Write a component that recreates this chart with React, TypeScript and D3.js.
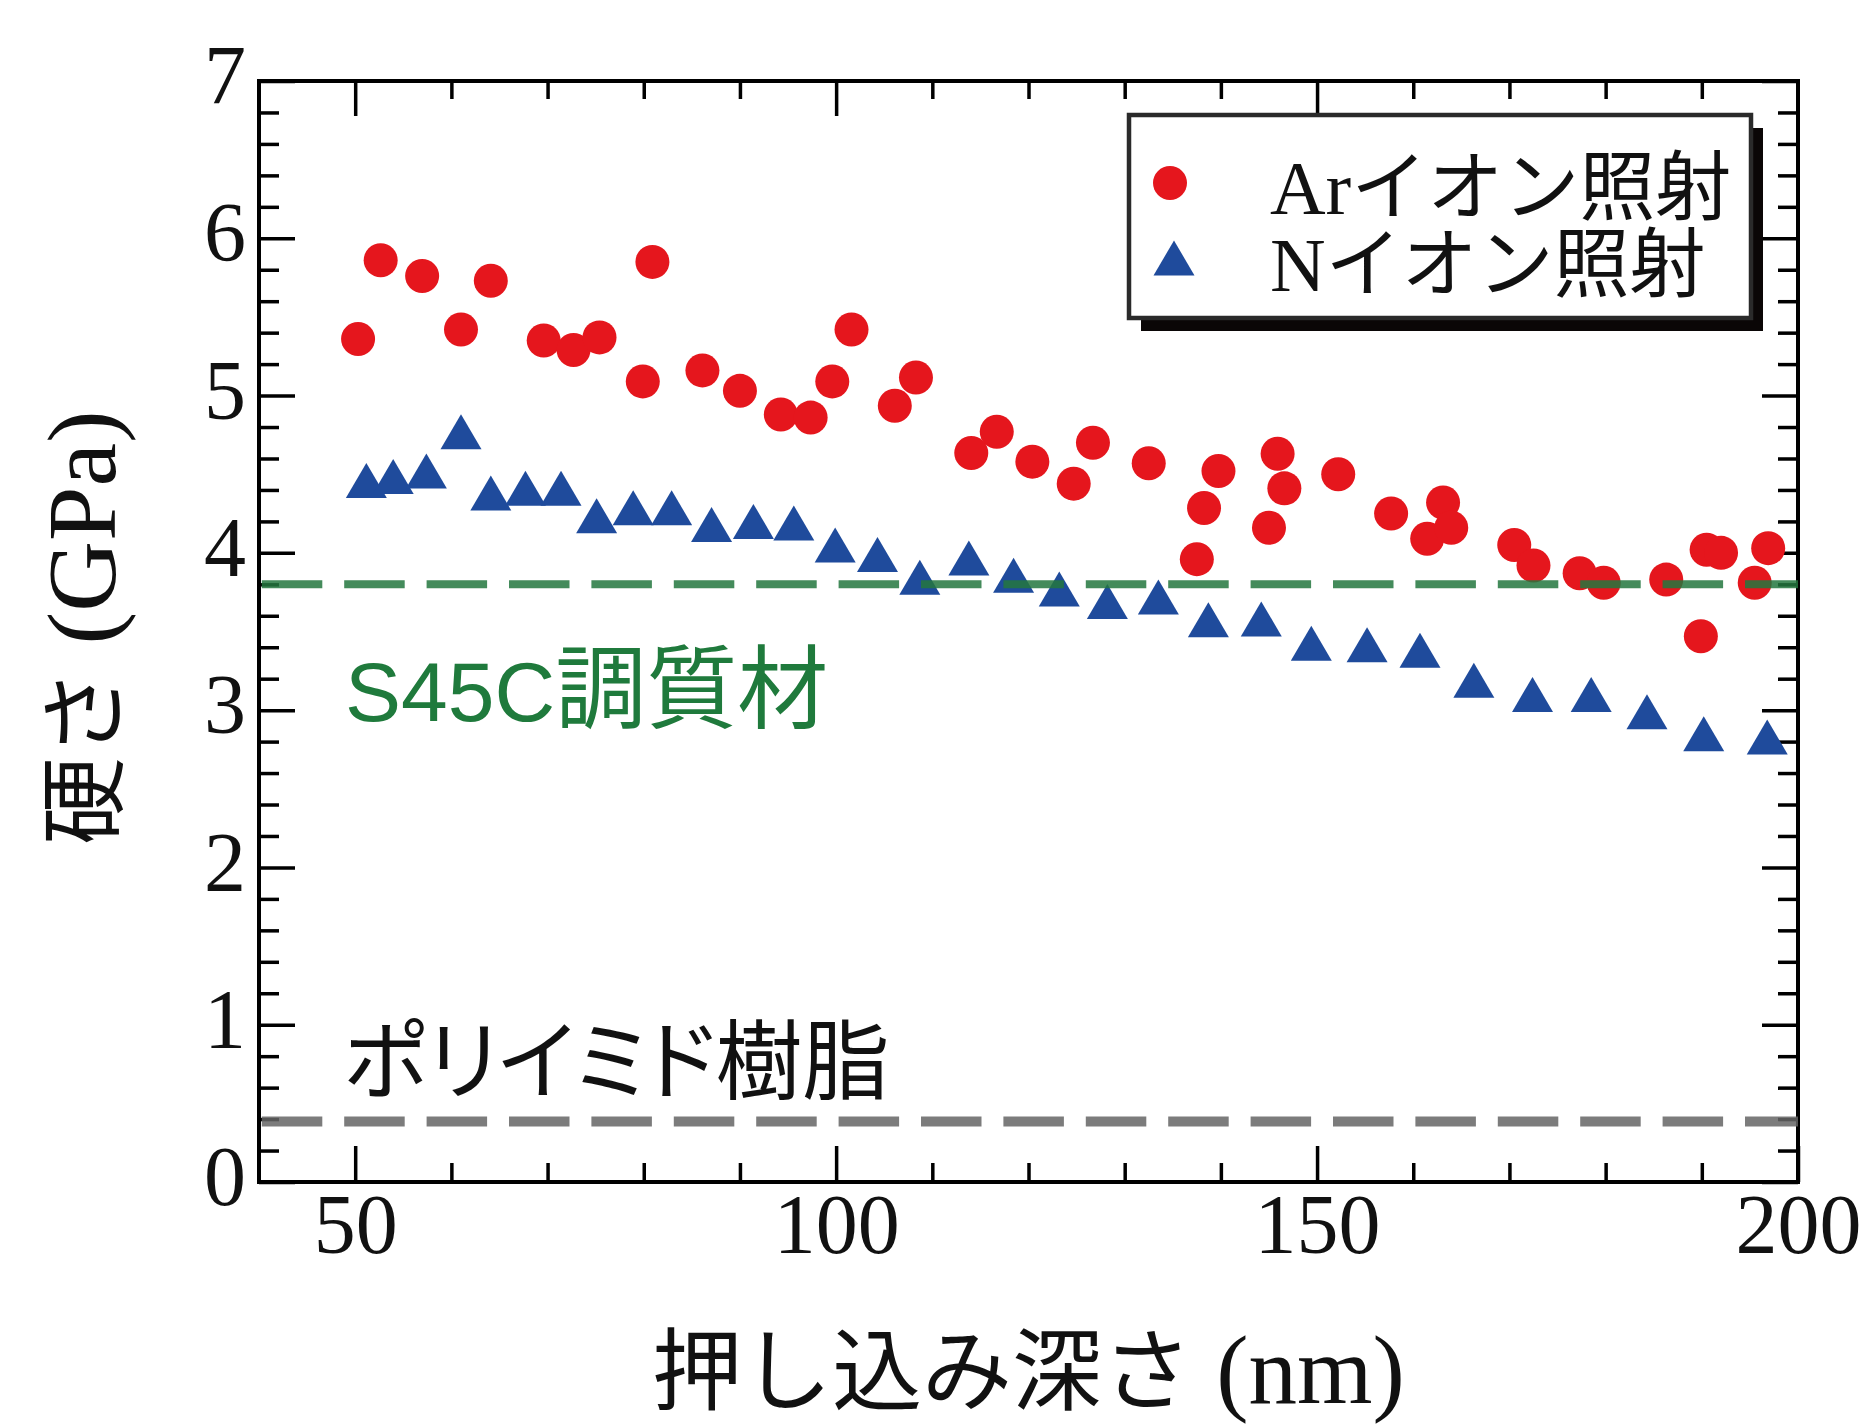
import React, { useRef, useEffect } from "react";
import * as d3 from "d3";

// Arイオン照射 (red circles)
export const arDepth = [
  50.3, 52.65, 56.96, 61.0, 64.1, 69.6, 72.7, 75.4, 79.9, 80.9, 86.1, 90.0,
  94.25, 97.35, 99.6, 101.6, 106.1, 108.3, 114.05, 116.7, 120.4, 124.7, 126.7,
  132.5, 137.5, 138.25, 139.75, 145.0, 145.9, 146.6, 152.2, 157.7, 161.45,
  163.1, 163.95, 170.5, 172.5, 177.3, 179.8, 186.3, 189.9, 190.5, 192.0, 195.5,
  196.9,
];
export const arHardness = [
  5.36, 5.86, 5.76, 5.42, 5.73, 5.35, 5.29, 5.37, 5.09, 5.85, 5.16, 5.03, 4.88,
  4.86, 5.09, 5.42, 4.935, 5.115, 4.635, 4.77, 4.58, 4.44, 4.7, 4.57, 3.96,
  4.285, 4.52, 4.16, 4.63, 4.41, 4.5, 4.25, 4.09, 4.32, 4.16, 4.05, 3.92, 3.87,
  3.81, 3.83, 3.47, 4.02, 4.0, 3.81, 4.03,
];

// Nイオン照射 (blue triangles)
export const nDepth = [
  51.16, 53.95, 57.4, 61.0, 64.1, 67.7, 71.4, 75.1, 78.9, 82.9, 87.05, 91.4,
  95.6, 99.9, 104.3, 108.7, 113.8, 118.45, 123.2, 128.2, 133.5, 138.7, 144.2,
  149.4, 155.2, 160.7, 166.3, 172.4, 178.5, 184.3, 190.2, 196.8,
];
export const nHardness = [
  4.46, 4.486, 4.52, 4.77, 4.38, 4.41, 4.41, 4.236, 4.287, 4.287, 4.18, 4.2,
  4.19, 4.05, 3.99, 3.845, 3.967, 3.857, 3.77, 3.69, 3.72, 3.575, 3.58, 3.425,
  3.415, 3.38, 3.19, 3.1, 3.1, 2.99, 2.85, 2.83,
];

export const xMajorTicks = [50, 100, 150, 200];
export const yMajorTicks = [0, 1, 2, 3, 4, 5, 6, 7];

// reference levels
export const s45cLevel = 3.8;
export const polyimideLevel = 0.385;

export const legendLatin = ["Ar", "N"];
export const legendJapanese = ["イオン照射", "イオン照射"];

const serif = '"Liberation Serif", "Times New Roman", serif';
const cjk = '"Noto Sans CJK JP", sans-serif';
const sans = '"Liberation Sans", Arial, "Noto Sans CJK JP", sans-serif';

const red = "#e5161d";
const blue = "#1f4b9c";
const green = "#1f7a3c";

const HardnessChart = () => {
  const ref = useRef<SVGSVGElement>(null);

  useEffect(() => {
    const width = 1862;
    const height = 1428;

    const svg = d3
      .select(ref.current)
      .attr("width", width)
      .attr("height", height)
      .style("display", "block");
    svg.selectAll("*").remove();

    const x = d3.scaleLinear().domain([40, 200]).range([259, 1798]);
    const y = d3.scaleLinear().domain([0, 7]).range([1182, 81]);
    const [x0, x1] = x.range();
    const [y0, y1] = y.range();

    const xMinor = d3.range(50, 200, 10).filter((v) => v % 50 !== 0);
    const yMinor = d3
      .range(1, 35)
      .map((i) => i / 5)
      .filter((v) => Math.abs(v - Math.round(v)) > 1e-6);
    const fmt = d3.format("d");

    const styleAxis = (g) => {
      g.select(".domain").remove();
      g.selectAll("line").attr("stroke", "#000").attr("stroke-width", 3.5);
    };

    // bottom axis with labels
    svg
      .append("g")
      .attr("transform", `translate(0,${y0})`)
      .call(
        d3
          .axisBottom(x)
          .tickValues(xMajorTicks)
          .tickSize(-36)
          .tickSizeOuter(0)
          .tickPadding(11)
          .tickFormat(fmt)
      )
      .call(styleAxis)
      .call((g) =>
        g
          .selectAll("text")
          .attr("font-family", serif)
          .attr("font-size", 84)
          .attr("fill", "#111")
      );
    svg
      .append("g")
      .attr("transform", `translate(0,${y0})`)
      .call(d3.axisBottom(x).tickValues(xMinor).tickSize(-19).tickSizeOuter(0).tickFormat(() => ""))
      .call(styleAxis);

    // top axis
    svg
      .append("g")
      .attr("transform", `translate(0,${y1})`)
      .call(d3.axisTop(x).tickValues([50, 100, 150]).tickSize(-35).tickSizeOuter(0).tickFormat(() => ""))
      .call(styleAxis);
    svg
      .append("g")
      .attr("transform", `translate(0,${y1})`)
      .call(d3.axisTop(x).tickValues(xMinor).tickSize(-18).tickSizeOuter(0).tickFormat(() => ""))
      .call(styleAxis);

    // left axis with labels
    svg
      .append("g")
      .attr("transform", `translate(${x0},0)`)
      .call(
        d3
          .axisLeft(y)
          .tickValues(yMajorTicks)
          .tickSize(-36)
          .tickSizeOuter(0)
          .tickPadding(13)
          .tickFormat(fmt)
      )
      .call(styleAxis)
      .call((g) =>
        g
          .selectAll("text")
          .attr("font-family", serif)
          .attr("font-size", 84)
          .attr("fill", "#111")
          .attr("dy", "0.27em")
      );
    svg
      .append("g")
      .attr("transform", `translate(${x0},0)`)
      .call(d3.axisLeft(y).tickValues(yMinor).tickSize(-20).tickSizeOuter(0).tickFormat(() => ""))
      .call(styleAxis);

    // right axis
    svg
      .append("g")
      .attr("transform", `translate(${x1},0)`)
      .call(d3.axisRight(y).tickValues(yMajorTicks).tickSize(-36).tickSizeOuter(0).tickFormat(() => ""))
      .call(styleAxis);
    svg
      .append("g")
      .attr("transform", `translate(${x1},0)`)
      .call(d3.axisRight(y).tickValues(yMinor).tickSize(-20).tickSizeOuter(0).tickFormat(() => ""))
      .call(styleAxis);

    // frame
    svg
      .append("rect")
      .attr("x", x0)
      .attr("y", y1)
      .attr("width", x1 - x0)
      .attr("height", y0 - y1)
      .attr("fill", "none")
      .attr("stroke", "#000")
      .attr("stroke-width", 4);

    // data points
    svg
      .append("g")
      .selectAll("circle")
      .data(arDepth.map((d, i) => [d, arHardness[i]]))
      .enter()
      .append("circle")
      .attr("cx", (d) => x(d[0]))
      .attr("cy", (d) => y(d[1]))
      .attr("r", 17)
      .attr("fill", red);

    const tri = "M0,-17.5L20.5,17.5L-20.5,17.5Z";
    svg
      .append("g")
      .selectAll("path")
      .data(nDepth.map((d, i) => [d, nHardness[i]]))
      .enter()
      .append("path")
      .attr("d", tri)
      .attr("transform", (d) => `translate(${x(d[0])},${y(d[1])})`)
      .attr("fill", blue);

    // reference dashed lines (drawn over the points)
    const refLine = (level, color, w) =>
      svg
        .append("line")
        .attr("x1", x0 + 2.8)
        .attr("x2", x1)
        .attr("y1", y(level))
        .attr("y2", y(level))
        .attr("stroke", color)
        .attr("stroke-width", w)
        .attr("stroke-dasharray", "60.5 21.9")
        .attr("opacity", 0.85);
    refLine(s45cLevel, "#24773f", 8);
    refLine(polyimideLevel, "#666", 10);

    // annotations
    const s45c = svg
      .append("text")
      .attr("x", 345)
      .attr("y", 721)
      .attr("fill", green);
    s45c.append("tspan").attr("font-family", sans).attr("font-size", 84).text("S45C");
    s45c.append("tspan").attr("font-family", cjk).attr("font-size", 91).text("調質材");

    svg
      .append("text")
      .attr("x", 343)
      .attr("y", 1093)
      .attr("font-family", cjk)
      .attr("font-size", 87)
      .attr("fill", "#111")
      .style("font-feature-settings", '"palt"')
      .text("ポリイミド樹脂");

    // axis titles
    const xTitle = svg
      .append("text")
      .attr("x", 652)
      .attr("y", 1403)
      .attr("fill", "#111");
    xTitle.append("tspan").attr("font-family", cjk).attr("font-size", 90).text("押し込み深さ");
    xTitle.append("tspan").attr("font-family", serif).attr("font-size", 97).text(" (nm)");

    const yTitle = svg
      .append("text")
      .attr("transform", "translate(115,845) rotate(-90)")
      .attr("fill", "#111");
    yTitle.append("tspan").attr("font-family", cjk).attr("font-size", 88).text("硬さ");
    yTitle.append("tspan").attr("font-family", serif).attr("font-size", 98).text(" (GPa)");

    // legend
    const lg = svg.append("g");
    const box = { x: 1129, y: 115, w: 622, h: 203 };
    lg.append("rect")
      .attr("x", box.x + 12)
      .attr("y", box.y + 13)
      .attr("width", box.w)
      .attr("height", box.h)
      .attr("fill", "#0a0606");
    lg.append("rect")
      .attr("x", box.x)
      .attr("y", box.y)
      .attr("width", box.w)
      .attr("height", box.h)
      .attr("fill", "#fff")
      .attr("stroke", "#2a2a2a")
      .attr("stroke-width", 4.5);

    lg.append("circle").attr("cx", 1170).attr("cy", 183).attr("r", 17).attr("fill", red);
    lg.append("path")
      .attr("d", tri)
      .attr("transform", "translate(1174,258)")
      .attr("fill", blue);

    legendLatin.forEach((lat, i) => {
      const t = lg
        .append("text")
        .attr("x", 1270)
        .attr("y", i === 0 ? 214 : 291)
        .attr("fill", "#111");
      t.append("tspan").attr("font-family", serif).attr("font-size", 77).text(lat);
      t.append("tspan").attr("font-family", cjk).attr("font-size", 76).text(legendJapanese[i]);
    });
  }, []);

  return <svg ref={ref}></svg>;
};

export default function App() {
  useEffect(() => {
    document.body.style.margin = "0";
  }, []);
  return <HardnessChart />;
}
